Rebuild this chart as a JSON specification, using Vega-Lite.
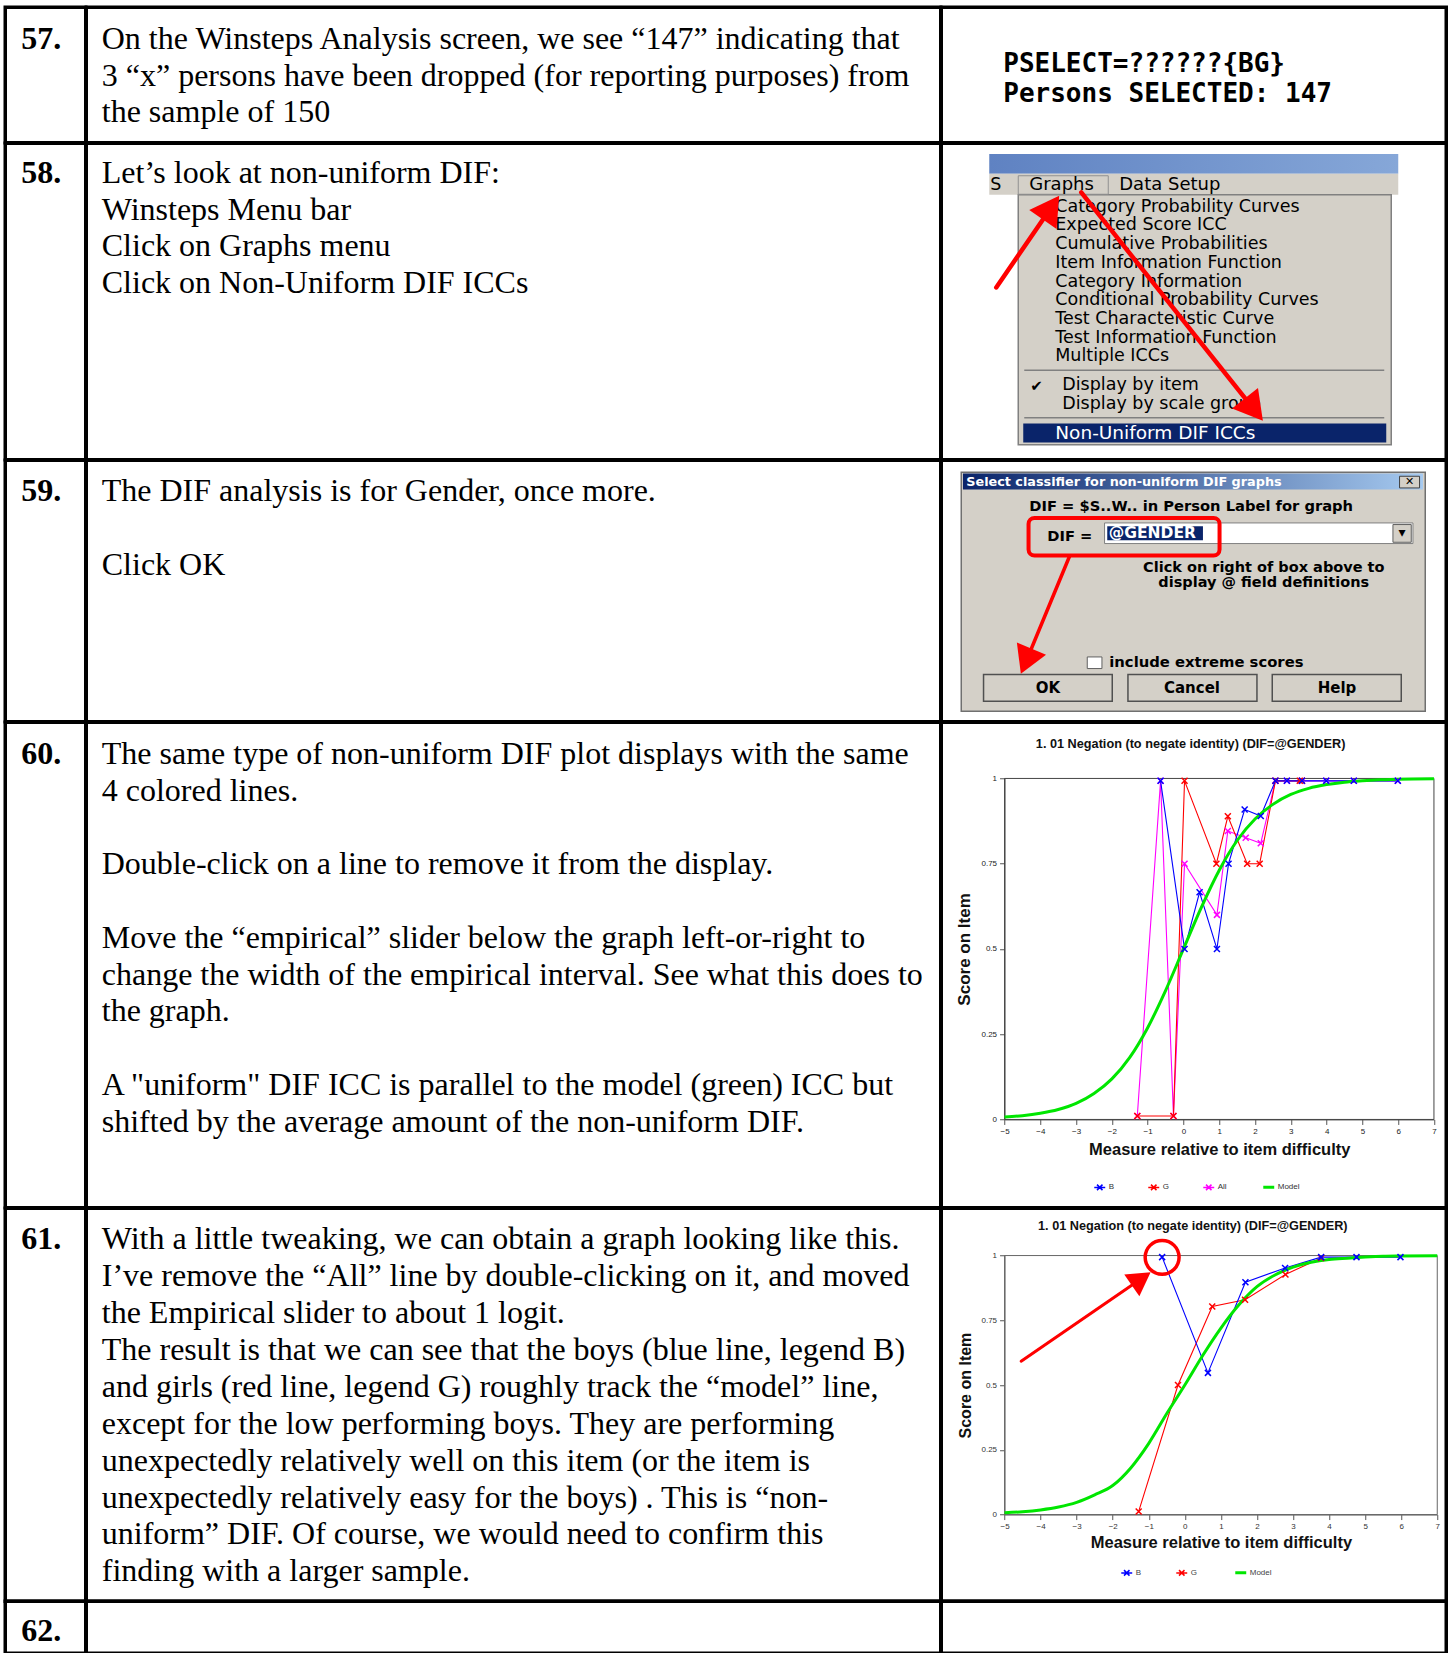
{
"$schema": "https://vega.github.io/schema/vega-lite/v6.json",
"background": "white",
"padding": {"left": 3.25, "top": 5.25, "right": 0, "bottom": 0},
"spacing": 0,
"bounds": "flush",
"align": "each",
"columns": 3,
"resolve": {"scale": {"color": "independent"}, "legend": {"color": "independent"}},
"config": {"view": {"stroke": "#000000", "strokeWidth": 3.5}, "concat": {"spacing": 0}},
"concat": [
 {"width": 80.5, "height": 135.5, "data": {"values": [{"line": 0, "label": "57."}]},
  "mark": {"type": "text", "font": "Liberation Serif", "fontSize": 32, "fontWeight": "bold", "align": "left", "baseline": "middle", "color": "#000"},
  "encoding": {"x": {"value": 16}, "y": {"field": "line", "type": "quantitative", "scale": {"domain": [0, 10], "range": [32, 400], "nice": false, "zero": false}, "axis": null}, "text": {"field": "label"}}},
 {"width": 854.5, "height": 135.5, "data": {"values": [
   {"line": 0, "text": "On the Winsteps Analysis screen, we see “147” indicating that"},
   {"line": 1, "text": "3 “x” persons have been dropped (for reporting purposes) from"},
   {"line": 2, "text": "the sample of 150"}]},
  "mark": {"type": "text", "font": "Liberation Serif", "fontSize": 32, "align": "left", "baseline": "middle", "color": "#000"},
  "encoding": {"x": {"value": 15.5}, "y": {"field": "line", "type": "quantitative", "scale": {"domain": [0, 10], "range": [32, 397], "nice": false, "zero": false}, "axis": null}, "text": {"field": "text"}}},
 {"width": 505, "height": 135.5, "data": {"values": [
   {"line": 0, "text": "PSELECT=??????{BG}"},
   {"line": 1, "text": "Persons SELECTED: 147"}]},
  "mark": {"type": "text", "font": "DejaVu Sans Mono", "fontSize": 26, "fontWeight": "bold", "align": "left", "baseline": "middle", "color": "#000"},
  "encoding": {"x": {"value": 62}, "y": {"field": "line", "type": "quantitative", "scale": {"domain": [0, 1], "range": [56.3, 86.9], "nice": false, "zero": false}, "axis": null}, "text": {"field": "text"}}},

 {"width": 80.5, "height": 316.5, "data": {"values": [{"line": 0, "label": "58."}]},
  "mark": {"type": "text", "font": "Liberation Serif", "fontSize": 32, "fontWeight": "bold", "align": "left", "baseline": "middle", "color": "#000"},
  "encoding": {"x": {"value": 16}, "y": {"field": "line", "type": "quantitative", "scale": {"domain": [0, 10], "range": [29.5, 397.5], "nice": false, "zero": false}, "axis": null}, "text": {"field": "label"}}},
 {"width": 854.5, "height": 316.5, "data": {"values": [
   {"line": 0, "text": "Let’s look at non-uniform DIF:"},
   {"line": 1, "text": "Winsteps Menu bar"},
   {"line": 2, "text": "Click on  Graphs menu"},
   {"line": 3, "text": "Click on Non-Uniform DIF ICCs"}]},
  "mark": {"type": "text", "font": "Liberation Serif", "fontSize": 32, "align": "left", "baseline": "middle", "color": "#000"},
  "encoding": {"x": {"value": 15.5}, "y": {"field": "line", "type": "quantitative", "scale": {"domain": [0, 10], "range": [29.5, 397.5], "nice": false, "zero": false}, "axis": null}, "text": {"field": "text"}}},
 {"width": 505, "height": 316.5, "data": {"values": [{}]},
  "layer": [
   {"mark": {"type": "rect", "fill": {"gradient": "linear", "x1": 0, "y1": 0, "x2": 1, "y2": 0, "stops": [{"offset": 0, "color": "#5f82c2"}, {"offset": 1, "color": "#86a7d8"}]}},
    "encoding": {"x": {"datum": 48, "type": "quantitative", "scale": {"domain": [0, 505], "range": [0, 505], "nice": false, "zero": false}, "axis": null}, "x2": {"datum": 457},
                 "y": {"datum": 10.8, "type": "quantitative", "scale": {"domain": [0, 316.5], "range": [0, 316.5], "nice": false, "zero": false}, "axis": null}, "y2": {"datum": 30.5}}},
   {"mark": {"type": "rect", "fill": "#d4d0c8"},
    "encoding": {"x": {"datum": 48, "type": "quantitative", "axis": null}, "x2": {"datum": 457}, "y": {"datum": 30.5, "type": "quantitative", "axis": null}, "y2": {"datum": 51.5}}},
   {"mark": {"type": "rect", "fill": "#d4d0c8", "stroke": "#808080", "strokeWidth": 1.5},
    "encoding": {"x": {"datum": 77, "type": "quantitative", "axis": null}, "x2": {"datum": 450}, "y": {"datum": 51.5, "type": "quantitative", "axis": null}, "y2": {"datum": 301.5}}},
   {"mark": {"type": "rect", "fill": "transparent", "stroke": "#909090", "strokeWidth": 1},
    "encoding": {"x": {"datum": 77, "type": "quantitative", "axis": null}, "x2": {"datum": 167}, "y": {"datum": 32.5, "type": "quantitative", "axis": null}, "y2": {"datum": 51}}},
   {"mark": {"type": "text", "text": "S", "font": "DejaVu Sans", "fontSize": 17.5, "align": "left", "baseline": "middle", "color": "#000"},
    "encoding": {"x": {"datum": 49, "type": "quantitative", "axis": null}, "y": {"datum": 41.5, "type": "quantitative", "axis": null}}},
   {"mark": {"type": "text", "text": "Graphs", "font": "DejaVu Sans", "fontSize": 18, "align": "left", "baseline": "middle", "color": "#000"},
    "encoding": {"x": {"datum": 88, "type": "quantitative", "axis": null}, "y": {"datum": 41.5, "type": "quantitative", "axis": null}}},
   {"mark": {"type": "text", "text": "Data Setup", "font": "DejaVu Sans", "fontSize": 18, "align": "left", "baseline": "middle", "color": "#000"},
    "encoding": {"x": {"datum": 178, "type": "quantitative", "axis": null}, "y": {"datum": 41.5, "type": "quantitative", "axis": null}}},
   {"mark": {"type": "text", "text": ["Category Probability Curves", "Expected Score ICC", "Cumulative Probabilities", "Item Information Function", "Category Information", "Conditional Probability Curves", "Test Characteristic Curve", "Test Information Function", "Multiple ICCs"], "lineHeight": 18.7, "font": "DejaVu Sans", "fontSize": 17.5, "align": "left", "baseline": "middle", "color": "#000"},
    "encoding": {"x": {"datum": 114, "type": "quantitative", "axis": null}, "y": {"datum": 63.5, "type": "quantitative", "axis": null}}},
   {"mark": {"type": "rule", "stroke": "#808080", "strokeWidth": 1.5},
    "encoding": {"x": {"datum": 83, "type": "quantitative", "axis": null}, "x2": {"datum": 443}, "y": {"datum": 227, "type": "quantitative", "axis": null}}},
   {"mark": {"type": "text", "text": "✔", "font": "DejaVu Sans", "fontSize": 15, "align": "left", "baseline": "middle", "color": "#000"},
    "encoding": {"x": {"datum": 89, "type": "quantitative", "axis": null}, "y": {"datum": 243, "type": "quantitative", "axis": null}}},
   {"mark": {"type": "text", "text": ["Display by item", "Display by scale group"], "lineHeight": 18.7, "font": "DejaVu Sans", "fontSize": 17.5, "align": "left", "baseline": "middle", "color": "#000"},
    "encoding": {"x": {"datum": 121, "type": "quantitative", "axis": null}, "y": {"datum": 241.8, "type": "quantitative", "axis": null}}},
   {"mark": {"type": "rule", "stroke": "#808080", "strokeWidth": 1.5},
    "encoding": {"x": {"datum": 83, "type": "quantitative", "axis": null}, "x2": {"datum": 443}, "y": {"datum": 274.4, "type": "quantitative", "axis": null}}},
   {"mark": {"type": "rect", "fill": "#0a246a"},
    "encoding": {"x": {"datum": 82, "type": "quantitative", "axis": null}, "x2": {"datum": 445}, "y": {"datum": 280.2, "type": "quantitative", "axis": null}, "y2": {"datum": 299.2}}},
   {"mark": {"type": "text", "text": "Non-Uniform DIF ICCs", "font": "DejaVu Sans", "fontSize": 18.5, "align": "left", "baseline": "middle", "color": "#ffffff"},
    "encoding": {"x": {"datum": 114, "type": "quantitative", "axis": null}, "y": {"datum": 289.5, "type": "quantitative", "axis": null}}},
   {"mark": {"type": "rule", "stroke": "#ff0000", "strokeWidth": 4.5, "strokeCap": "round"},
    "encoding": {"x": {"datum": 55, "type": "quantitative", "axis": null}, "y": {"datum": 144.2, "type": "quantitative", "axis": null}, "x2": {"datum": 109.8}, "y2": {"datum": 64.4}}},
   {"mark": {"type": "rule", "stroke": "#ff0000", "strokeWidth": 4.5, "strokeCap": "round"},
    "encoding": {"x": {"datum": 140, "type": "quantitative", "axis": null}, "y": {"datum": 49.2, "type": "quantitative", "axis": null}, "x2": {"datum": 312.7}, "y2": {"datum": 266.2}}},
   {"mark": {"type": "point", "shape": "triangle-up", "filled": true, "fill": "#ff0000", "stroke": null, "opacity": 1, "size": 1100, "angle": 34.5},
    "encoding": {"x": {"datum": 109.8, "type": "quantitative", "axis": null}, "y": {"datum": 64.4, "type": "quantitative", "axis": null}}},
   {"mark": {"type": "point", "shape": "triangle-up", "filled": true, "fill": "#ff0000", "stroke": null, "opacity": 1, "size": 1100, "angle": 141.5},
    "encoding": {"x": {"datum": 312.7, "type": "quantitative", "axis": null}, "y": {"datum": 266.2, "type": "quantitative", "axis": null}}}
  ]},

 {"width": 80.5, "height": 261.5, "data": {"values": [{"line": 0, "label": "59."}]},
  "mark": {"type": "text", "font": "Liberation Serif", "fontSize": 32, "fontWeight": "bold", "align": "left", "baseline": "middle", "color": "#000"},
  "encoding": {"x": {"value": 16}, "y": {"field": "line", "type": "quantitative", "scale": {"domain": [0, 10], "range": [31, 399], "nice": false, "zero": false}, "axis": null}, "text": {"field": "label"}}},
 {"width": 854.5, "height": 261.5, "data": {"values": [
   {"line": 0, "text": "The DIF analysis is for Gender, once more."},
   {"line": 2, "text": "Click OK"}]},
  "mark": {"type": "text", "font": "Liberation Serif", "fontSize": 32, "align": "left", "baseline": "middle", "color": "#000"},
  "encoding": {"x": {"value": 15.5}, "y": {"field": "line", "type": "quantitative", "scale": {"domain": [0, 10], "range": [31, 399], "nice": false, "zero": false}, "axis": null}, "text": {"field": "text"}}},
 {"width": 505, "height": 261.5, "data": {"values": [{}]},
  "layer": [
   {"mark": {"type": "rect", "fill": "#d4d0c8", "stroke": "#707070", "strokeWidth": 1.5},
    "encoding": {"x": {"datum": 20, "type": "quantitative", "scale": {"domain": [0, 505], "range": [0, 505], "nice": false, "zero": false}, "axis": null}, "x2": {"datum": 484},
                 "y": {"datum": 12, "type": "quantitative", "scale": {"domain": [0, 261.5], "range": [0, 261.5], "nice": false, "zero": false}, "axis": null}, "y2": {"datum": 251}}},
   {"mark": {"type": "rect", "fill": {"gradient": "linear", "x1": 0, "y1": 0, "x2": 1, "y2": 0, "stops": [{"offset": 0, "color": "#0a246a"}, {"offset": 1, "color": "#a6caf0"}]}},
    "encoding": {"x": {"datum": 21.7, "type": "quantitative", "axis": null}, "x2": {"datum": 481.7}, "y": {"datum": 13.3, "type": "quantitative", "axis": null}, "y2": {"datum": 29.3}}},
   {"mark": {"type": "text", "text": "Select classifier for non-uniform DIF graphs", "font": "DejaVu Sans", "fontWeight": "bold", "fontSize": 12.8, "align": "left", "baseline": "middle", "color": "#ffffff"},
    "encoding": {"x": {"datum": 25, "type": "quantitative", "axis": null}, "y": {"datum": 21.3, "type": "quantitative", "axis": null}}},
   {"mark": {"type": "rect", "fill": "#d4d0c8", "stroke": "#404040", "strokeWidth": 1},
    "encoding": {"x": {"datum": 458.3, "type": "quantitative", "axis": null}, "x2": {"datum": 478.3}, "y": {"datum": 16, "type": "quantitative", "axis": null}, "y2": {"datum": 27.7}}},
   {"mark": {"type": "text", "text": "✕", "font": "DejaVu Sans", "fontWeight": "bold", "fontSize": 11, "align": "center", "baseline": "middle", "color": "#000"},
    "encoding": {"x": {"datum": 468.3, "type": "quantitative", "axis": null}, "y": {"datum": 22, "type": "quantitative", "axis": null}}},
   {"mark": {"type": "text", "text": "DIF = $S..W.. in Person Label for graph", "font": "DejaVu Sans", "fontWeight": "bold", "fontSize": 14.7, "align": "left", "baseline": "middle", "color": "#000"},
    "encoding": {"x": {"datum": 88, "type": "quantitative", "axis": null}, "y": {"datum": 46.7, "type": "quantitative", "axis": null}}},
   {"mark": {"type": "rect", "fill": "#ffffff", "stroke": "#808080", "strokeWidth": 1},
    "encoding": {"x": {"datum": 163.3, "type": "quantitative", "axis": null}, "x2": {"datum": 471.7}, "y": {"datum": 62.7, "type": "quantitative", "axis": null}, "y2": {"datum": 83.3}}},
   {"mark": {"type": "rect", "fill": "#0a246a"},
    "encoding": {"x": {"datum": 166, "type": "quantitative", "axis": null}, "x2": {"datum": 261.7}, "y": {"datum": 66, "type": "quantitative", "axis": null}, "y2": {"datum": 80}}},
   {"mark": {"type": "text", "text": "@GENDER", "font": "DejaVu Sans", "fontWeight": "bold", "fontSize": 15.5, "align": "left", "baseline": "middle", "color": "#ffffff"},
    "encoding": {"x": {"datum": 167.5, "type": "quantitative", "axis": null}, "y": {"datum": 73, "type": "quantitative", "axis": null}}},
   {"mark": {"type": "rect", "fill": "#d4d0c8", "stroke": "#606060", "strokeWidth": 1},
    "encoding": {"x": {"datum": 451.7, "type": "quantitative", "axis": null}, "x2": {"datum": 470}, "y": {"datum": 64.3, "type": "quantitative", "axis": null}, "y2": {"datum": 82}}},
   {"mark": {"type": "text", "text": "▾", "font": "DejaVu Sans", "fontSize": 14, "align": "center", "baseline": "middle", "color": "#000"},
    "encoding": {"x": {"datum": 460.8, "type": "quantitative", "axis": null}, "y": {"datum": 73, "type": "quantitative", "axis": null}}},
   {"mark": {"type": "text", "text": "DIF =", "font": "DejaVu Sans", "fontWeight": "bold", "fontSize": 14.7, "align": "left", "baseline": "middle", "color": "#000"},
    "encoding": {"x": {"datum": 106, "type": "quantitative", "axis": null}, "y": {"datum": 76.7, "type": "quantitative", "axis": null}}},
   {"mark": {"type": "rect", "fill": "transparent", "stroke": "#ff0000", "strokeWidth": 4, "cornerRadius": 6},
    "encoding": {"x": {"datum": 87.3, "type": "quantitative", "axis": null}, "x2": {"datum": 278.3}, "y": {"datum": 57.7, "type": "quantitative", "axis": null}, "y2": {"datum": 95.3}}},
   {"mark": {"type": "text", "text": ["Click on right of box above to", "display @ field definitions"], "lineHeight": 15, "font": "DejaVu Sans", "fontWeight": "bold", "fontSize": 14.5, "align": "center", "baseline": "middle", "color": "#000"},
    "encoding": {"x": {"datum": 322.5, "type": "quantitative", "axis": null}, "y": {"datum": 107.7, "type": "quantitative", "axis": null}}},
   {"mark": {"type": "rect", "fill": "#ffffff", "stroke": "#606060", "strokeWidth": 1},
    "encoding": {"x": {"datum": 146, "type": "quantitative", "axis": null}, "x2": {"datum": 160.7}, "y": {"datum": 196.7, "type": "quantitative", "axis": null}, "y2": {"datum": 208.3}}},
   {"mark": {"type": "text", "text": "include extreme scores", "font": "DejaVu Sans", "fontWeight": "bold", "fontSize": 14.8, "align": "left", "baseline": "middle", "color": "#000"},
    "encoding": {"x": {"datum": 168, "type": "quantitative", "axis": null}, "y": {"datum": 202.7, "type": "quantitative", "axis": null}}},
   {"mark": {"type": "rect", "fill": "#d4d0c8", "stroke": "#505050", "strokeWidth": 1.5},
    "encoding": {"x": {"datum": 42.3, "type": "quantitative", "axis": null}, "x2": {"datum": 171}, "y": {"datum": 214.3, "type": "quantitative", "axis": null}, "y2": {"datum": 241}}},
   {"mark": {"type": "rect", "fill": "#d4d0c8", "stroke": "#505050", "strokeWidth": 1.5},
    "encoding": {"x": {"datum": 186.7, "type": "quantitative", "axis": null}, "x2": {"datum": 315.7}, "y": {"datum": 214.3, "type": "quantitative", "axis": null}, "y2": {"datum": 241}}},
   {"mark": {"type": "rect", "fill": "#d4d0c8", "stroke": "#505050", "strokeWidth": 1.5},
    "encoding": {"x": {"datum": 331, "type": "quantitative", "axis": null}, "x2": {"datum": 460}, "y": {"datum": 214.3, "type": "quantitative", "axis": null}, "y2": {"datum": 241}}},
   {"mark": {"type": "text", "text": "OK", "font": "DejaVu Sans", "fontWeight": "bold", "fontSize": 15, "align": "center", "baseline": "middle", "color": "#000"},
    "encoding": {"x": {"datum": 106.7, "type": "quantitative", "axis": null}, "y": {"datum": 227.5, "type": "quantitative", "axis": null}}},
   {"mark": {"type": "text", "text": "Cancel", "font": "DejaVu Sans", "fontWeight": "bold", "fontSize": 15, "align": "center", "baseline": "middle", "color": "#000"},
    "encoding": {"x": {"datum": 250.7, "type": "quantitative", "axis": null}, "y": {"datum": 227.5, "type": "quantitative", "axis": null}}},
   {"mark": {"type": "text", "text": "Help", "font": "DejaVu Sans", "fontWeight": "bold", "fontSize": 15, "align": "center", "baseline": "middle", "color": "#000"},
    "encoding": {"x": {"datum": 395.7, "type": "quantitative", "axis": null}, "y": {"datum": 227.5, "type": "quantitative", "axis": null}}},
   {"mark": {"type": "rule", "stroke": "#ff0000", "strokeWidth": 3.5, "strokeCap": "round"},
    "encoding": {"x": {"datum": 128.3, "type": "quantitative", "axis": null}, "y": {"datum": 96, "type": "quantitative", "axis": null}, "x2": {"datum": 84.9}, "y2": {"datum": 201}}},
   {"mark": {"type": "point", "shape": "triangle-up", "filled": true, "fill": "#ff0000", "stroke": null, "opacity": 1, "size": 1000, "angle": 202.8},
    "encoding": {"x": {"datum": 84.9, "type": "quantitative", "axis": null}, "y": {"datum": 201, "type": "quantitative", "axis": null}}}
  ]},

 {"width": 80.5, "height": 485.5, "data": {"values": [{"line": 0, "label": "60."}]},
  "mark": {"type": "text", "font": "Liberation Serif", "fontSize": 32, "fontWeight": "bold", "align": "left", "baseline": "middle", "color": "#000"},
  "encoding": {"x": {"value": 16}, "y": {"field": "line", "type": "quantitative", "scale": {"domain": [0, 10], "range": [31.5, 399.5], "nice": false, "zero": false}, "axis": null}, "text": {"field": "label"}}},
 {"width": 854.5, "height": 485.5, "data": {"values": [
   {"line": 0, "text": "The same type of non-uniform DIF plot displays with the same"},
   {"line": 1, "text": "4 colored lines."},
   {"line": 3, "text": "Double-click on a line to remove it from the display."},
   {"line": 5, "text": "Move the “empirical” slider below the graph left-or-right to"},
   {"line": 6, "text": "change the width of the empirical interval. See what this does to"},
   {"line": 7, "text": "the graph."},
   {"line": 9, "text": "A \"uniform\" DIF ICC is parallel to the model (green) ICC but"},
   {"line": 10, "text": "shifted by the average amount of the non-uniform DIF."}]},
  "mark": {"type": "text", "font": "Liberation Serif", "fontSize": 32, "align": "left", "baseline": "middle", "color": "#000"},
  "encoding": {"x": {"value": 15.5}, "y": {"field": "line", "type": "quantitative", "scale": {"domain": [0, 10], "range": [31.5, 399.5], "nice": false, "zero": false}, "axis": null}, "text": {"field": "text"}}},
 {"width": 505, "height": 485.5,
  "data": {"values": [
   {"series": "All", "x": -1.29, "score": 0.01}, {"series": "All", "x": -0.64, "score": 0.993}, {"series": "All", "x": -0.28, "score": 0.01},
   {"series": "All", "x": 0.03, "score": 0.75}, {"series": "All", "x": 0.935, "score": 0.6}, {"series": "All", "x": 1.24, "score": 0.846},
   {"series": "All", "x": 1.74, "score": 0.826}, {"series": "All", "x": 2.16, "score": 0.81}, {"series": "All", "x": 2.57, "score": 0.993},
   {"series": "All", "x": 2.89, "score": 0.993}, {"series": "All", "x": 3.31, "score": 0.993}, {"series": "All", "x": 3.99, "score": 0.993},
   {"series": "All", "x": 4.76, "score": 0.993}, {"series": "All", "x": 5.99, "score": 0.993},
   {"series": "G", "x": -1.29, "score": 0.01}, {"series": "G", "x": -0.28, "score": 0.01}, {"series": "G", "x": 0.03, "score": 0.993},
   {"series": "G", "x": 0.92, "score": 0.75}, {"series": "G", "x": 1.24, "score": 0.889}, {"series": "G", "x": 1.78, "score": 0.75},
   {"series": "G", "x": 2.13, "score": 0.75}, {"series": "G", "x": 2.57, "score": 0.993}, {"series": "G", "x": 3.25, "score": 0.993},
   {"series": "G", "x": 3.31, "score": 0.993},
   {"series": "B", "x": -0.64, "score": 0.993}, {"series": "B", "x": 0.03, "score": 0.5}, {"series": "B", "x": 0.45, "score": 0.666},
   {"series": "B", "x": 0.935, "score": 0.5}, {"series": "B", "x": 1.26, "score": 0.75}, {"series": "B", "x": 1.71, "score": 0.909},
   {"series": "B", "x": 2.16, "score": 0.89}, {"series": "B", "x": 2.57, "score": 0.993}, {"series": "B", "x": 2.89, "score": 0.993},
   {"series": "B", "x": 3.31, "score": 0.993}, {"series": "B", "x": 3.99, "score": 0.993}, {"series": "B", "x": 4.76, "score": 0.993},
   {"series": "B", "x": 5.99, "score": 0.993},
   {"series": "Model", "x": -5, "score": 0.007}, {"series": "Model", "x": -4.5, "score": 0.011}, {"series": "Model", "x": -4, "score": 0.018},
   {"series": "Model", "x": -3.5, "score": 0.029}, {"series": "Model", "x": -3, "score": 0.047}, {"series": "Model", "x": -2.5, "score": 0.076},
   {"series": "Model", "x": -2, "score": 0.119}, {"series": "Model", "x": -1.5, "score": 0.182}, {"series": "Model", "x": -1, "score": 0.269},
   {"series": "Model", "x": -0.5, "score": 0.378}, {"series": "Model", "x": 0, "score": 0.5}, {"series": "Model", "x": 0.5, "score": 0.622},
   {"series": "Model", "x": 1, "score": 0.731}, {"series": "Model", "x": 1.5, "score": 0.818}, {"series": "Model", "x": 2, "score": 0.881},
   {"series": "Model", "x": 2.5, "score": 0.924}, {"series": "Model", "x": 3, "score": 0.953}, {"series": "Model", "x": 3.5, "score": 0.971},
   {"series": "Model", "x": 4, "score": 0.982}, {"series": "Model", "x": 4.5, "score": 0.989}, {"series": "Model", "x": 5, "score": 0.993},
   {"series": "Model", "x": 5.5, "score": 0.996}, {"series": "Model", "x": 6, "score": 0.998}, {"series": "Model", "x": 7, "score": 0.999}
  ]},
  "layer": [
   {"data": {"values": [{}]}, "mark": {"type": "rect", "fill": "transparent", "stroke": "#444444", "strokeWidth": 1},
    "encoding": {"x": {"datum": -5, "type": "quantitative"}, "x2": {"datum": 7}, "y": {"datum": 0, "type": "quantitative"}, "y2": {"datum": 1}}},
   {"transform": [{"filter": "datum.series !== 'Model'"}], "mark": {"type": "line", "strokeWidth": 1.1},
    "encoding": {
     "x": {"field": "x", "type": "quantitative", "scale": {"domain": [-5, 7], "range": [63.3, 492.7], "nice": false, "zero": false},
           "axis": {"title": "Measure relative to item difficulty", "offset": -88.3, "values": [-5, -4, -3, -2, -1, 0, 1, 2, 3, 4, 5, 6, 7], "format": "d", "grid": false, "labelFlush": false, "labelOverlap": false,
                    "labelFont": "Liberation Sans", "labelFontSize": 8, "labelColor": "#222", "labelPadding": 3, "tickSize": 5, "tickColor": "#555", "domainColor": "#555",
                    "titleFont": "Liberation Sans", "titleFontSize": 16.5, "titleFontWeight": "bold", "titleColor": "#111", "titlePadding": 6}},
     "y": {"field": "score", "type": "quantitative", "scale": {"domain": [0, 1], "range": [397.2, 56.2], "nice": false, "zero": false},
           "axis": {"title": "Score on Item", "offset": -63.3, "values": [0, 0.25, 0.5, 0.75, 1], "format": ".2~g", "grid": false, "labelOverlap": false, "labelFlush": false,
                    "labelFont": "Liberation Sans", "labelFontSize": 8, "labelColor": "#222", "labelPadding": 3, "tickSize": 5, "tickColor": "#555", "domainColor": "#555",
                    "titleFont": "Liberation Sans", "titleFontSize": 17, "titleFontWeight": "bold", "titleColor": "#111", "titlePadding": 7}},
     "color": {"field": "series", "type": "nominal", "scale": {"domain": ["B", "G", "All", "Model"], "range": ["#0000ff", "#ff0000", "#ff00ff", "#00e600"]},
      "legend": {"title": null, "orient": "none", "legendX": 154.5, "legendY": 461, "direction": "horizontal", "labelFont": "Liberation Sans", "labelFontSize": 8, "labelColor": "#333",
                 "symbolType": "M-1,0L1,0M-0.5,-0.5L0.5,0.5M-0.5,0.5L0.5,-0.5", "symbolSize": 120, "symbolStrokeWidth": 1.5, "columnPadding": 30, "labelOffset": 5,
                 "encode": {"symbols": {"update": {"shape": {"signal": "datum.value === 'Model' ? 'M-1,0L1,0' : 'M-1,0L1,0M-0.5,-0.5L0.5,0.5M-0.5,0.5L0.5,-0.5'"}, "strokeWidth": {"signal": "datum.value === 'Model' ? 3 : 1.5"}}}}}}}},
   {"transform": [{"filter": "datum.series === 'Model'"}], "mark": {"type": "line", "strokeWidth": 3, "interpolate": "monotone"},
    "encoding": {"x": {"field": "x", "type": "quantitative"}, "y": {"field": "score", "type": "quantitative"}, "color": {"field": "series", "type": "nominal"}}},
   {"transform": [{"filter": "datum.series !== 'Model'"}], "mark": {"type": "point", "shape": "M-1,-1L1,1M-1,1L1,-1", "filled": false, "size": 36, "strokeWidth": 1.5, "opacity": 1},
    "encoding": {"x": {"field": "x", "type": "quantitative"}, "y": {"field": "score", "type": "quantitative"}, "color": {"field": "series", "type": "nominal"}}},
   {"data": {"values": [{}]}, "mark": {"type": "text", "text": "1. 01 Negation (to negate identity)  (DIF=@GENDER)", "font": "Liberation Sans", "fontSize": 12.7, "fontWeight": "bold", "align": "center", "baseline": "middle", "color": "#111"},
    "encoding": {"x": {"datum": 0.2, "type": "quantitative"}, "y": {"datum": 1.1, "type": "quantitative"}}}
  ]},

 {"width": 80.5, "height": 393, "data": {"values": [{"line": 0, "label": "61."}]},
  "mark": {"type": "text", "font": "Liberation Serif", "fontSize": 32, "fontWeight": "bold", "align": "left", "baseline": "middle", "color": "#000"},
  "encoding": {"x": {"value": 16}, "y": {"field": "line", "type": "quantitative", "scale": {"domain": [0, 10], "range": [31, 400], "nice": false, "zero": false}, "axis": null}, "text": {"field": "label"}}},
 {"width": 854.5, "height": 393, "data": {"values": [
   {"line": 0, "text": "With a little tweaking, we can obtain a graph looking like this."},
   {"line": 1, "text": "I’ve remove the “All” line by double-clicking on it, and moved"},
   {"line": 2, "text": "the Empirical slider to about 1 logit."},
   {"line": 3, "text": "The result is that we can see that the boys (blue line, legend B)"},
   {"line": 4, "text": "and girls (red line, legend G) roughly track the “model” line,"},
   {"line": 5, "text": "except for the low performing boys. They are performing"},
   {"line": 6, "text": "unexpectedly relatively well on this item (or the item is"},
   {"line": 7, "text": "unexpectedly relatively easy for the boys) . This is “non-"},
   {"line": 8, "text": "uniform” DIF. Of course, we would need to confirm this"},
   {"line": 9, "text": "finding with a larger sample."}]},
  "mark": {"type": "text", "font": "Liberation Serif", "fontSize": 32, "align": "left", "baseline": "middle", "color": "#000"},
  "encoding": {"x": {"value": 15.5}, "y": {"field": "line", "type": "quantitative", "scale": {"domain": [0, 10], "range": [31, 400], "nice": false, "zero": false}, "axis": null}, "text": {"field": "text"}}},
 {"width": 505, "height": 393,
  "data": {"values": [
   {"series": "G", "x": -1.28, "score": 0.012}, {"series": "G", "x": -0.19, "score": 0.5}, {"series": "G", "x": 0.76, "score": 0.803},
   {"series": "G", "x": 1.67, "score": 0.829}, {"series": "G", "x": 2.79, "score": 0.927}, {"series": "G", "x": 3.78, "score": 0.991},
   {"series": "B", "x": -0.63, "score": 0.994}, {"series": "B", "x": 0.64, "score": 0.547}, {"series": "B", "x": 1.68, "score": 0.897},
   {"series": "B", "x": 2.78, "score": 0.952}, {"series": "B", "x": 3.78, "score": 0.994}, {"series": "B", "x": 4.76, "score": 0.994},
   {"series": "B", "x": 5.98, "score": 0.994},
   {"series": "Model", "x": -5, "score": 0.007}, {"series": "Model", "x": -4.5, "score": 0.011}, {"series": "Model", "x": -4, "score": 0.018},
   {"series": "Model", "x": -3.5, "score": 0.029}, {"series": "Model", "x": -3, "score": 0.047}, {"series": "Model", "x": -2.5, "score": 0.076},
   {"series": "Model", "x": -2, "score": 0.112}, {"series": "Model", "x": -1.5, "score": 0.18}, {"series": "Model", "x": -1, "score": 0.275},
   {"series": "Model", "x": -0.5, "score": 0.39}, {"series": "Model", "x": 0, "score": 0.5}, {"series": "Model", "x": 0.5, "score": 0.615},
   {"series": "Model", "x": 1, "score": 0.72}, {"series": "Model", "x": 1.5, "score": 0.81}, {"series": "Model", "x": 2, "score": 0.88},
   {"series": "Model", "x": 2.5, "score": 0.925}, {"series": "Model", "x": 3, "score": 0.955}, {"series": "Model", "x": 3.5, "score": 0.974},
   {"series": "Model", "x": 4, "score": 0.985}, {"series": "Model", "x": 4.5, "score": 0.99}, {"series": "Model", "x": 5, "score": 0.994},
   {"series": "Model", "x": 5.5, "score": 0.997}, {"series": "Model", "x": 6, "score": 0.998}, {"series": "Model", "x": 7, "score": 0.999}
  ]},
  "layer": [
   {"data": {"values": [{}]}, "mark": {"type": "rect", "fill": "transparent", "stroke": "#666666", "strokeWidth": 1},
    "encoding": {"x": {"datum": -5, "type": "quantitative"}, "x2": {"datum": 7}, "y": {"datum": 0, "type": "quantitative"}, "y2": {"datum": 1}}},
   {"transform": [{"filter": "datum.series !== 'Model'"}], "mark": {"type": "line", "strokeWidth": 1.1},
    "encoding": {
     "x": {"field": "x", "type": "quantitative", "scale": {"domain": [-5, 7], "range": [63.3, 496], "nice": false, "zero": false},
           "axis": {"title": "Measure relative to item difficulty", "offset": -86.7, "values": [-5, -4, -3, -2, -1, 0, 1, 2, 3, 4, 5, 6, 7], "format": "d", "grid": false, "labelFlush": false, "labelOverlap": false,
                    "labelFont": "Liberation Sans", "labelFontSize": 8, "labelColor": "#333", "labelPadding": 3, "tickSize": 5, "tickColor": "#555", "domainColor": "#666",
                    "titleFont": "Liberation Sans", "titleFontSize": 16.5, "titleFontWeight": "bold", "titleColor": "#111", "titlePadding": 4}},
     "y": {"field": "score", "type": "quantitative", "scale": {"domain": [0, 1], "range": [306.3, 47.3], "nice": false, "zero": false},
           "axis": {"title": "Score on Item", "offset": -63.3, "values": [0, 0.25, 0.5, 0.75, 1], "format": ".2~g", "grid": false, "labelOverlap": false, "labelFlush": false,
                    "labelFont": "Liberation Sans", "labelFontSize": 8, "labelColor": "#333", "labelPadding": 3, "tickSize": 5, "tickColor": "#555", "domainColor": "#666",
                    "titleFont": "Liberation Sans", "titleFontSize": 16, "titleFontWeight": "bold", "titleColor": "#111", "titlePadding": 7}},
     "color": {"field": "series", "type": "nominal", "scale": {"domain": ["B", "G", "Model"], "range": ["#0000ff", "#ff0000", "#00e600"]},
      "legend": {"title": null, "orient": "none", "legendX": 181.5, "legendY": 360.5, "direction": "horizontal", "labelFont": "Liberation Sans", "labelFontSize": 8, "labelColor": "#444",
                 "symbolType": "M-1,0L1,0M-0.5,-0.5L0.5,0.5M-0.5,0.5L0.5,-0.5", "symbolSize": 120, "symbolStrokeWidth": 1.5, "columnPadding": 31, "labelOffset": 5,
                 "encode": {"symbols": {"update": {"shape": {"signal": "datum.value === 'Model' ? 'M-1,0L1,0' : 'M-1,0L1,0M-0.5,-0.5L0.5,0.5M-0.5,0.5L0.5,-0.5'"}, "strokeWidth": {"signal": "datum.value === 'Model' ? 3 : 1.5"}}}}}}}},
   {"transform": [{"filter": "datum.series === 'Model'"}], "mark": {"type": "line", "strokeWidth": 3, "interpolate": "monotone"},
    "encoding": {"x": {"field": "x", "type": "quantitative"}, "y": {"field": "score", "type": "quantitative"}, "color": {"field": "series", "type": "nominal"}}},
   {"transform": [{"filter": "datum.series !== 'Model'"}], "mark": {"type": "point", "shape": "M-1,-1L1,1M-1,1L1,-1", "filled": false, "size": 36, "strokeWidth": 1.5, "opacity": 1},
    "encoding": {"x": {"field": "x", "type": "quantitative"}, "y": {"field": "score", "type": "quantitative"}, "color": {"field": "series", "type": "nominal"}}},
   {"data": {"values": [{}]}, "mark": {"type": "text", "text": "1. 01 Negation (to negate identity)  (DIF=@GENDER)", "font": "Liberation Sans", "fontSize": 12.7, "fontWeight": "bold", "align": "center", "baseline": "middle", "color": "#111"},
    "encoding": {"x": {"datum": 0.22, "type": "quantitative"}, "y": {"datum": 1.115, "type": "quantitative"}}},
   {"data": {"values": [{}]}, "mark": {"type": "point", "shape": "circle", "filled": false, "stroke": "#ff0000", "strokeWidth": 3.5, "size": 1150, "opacity": 1},
    "encoding": {"x": {"datum": -0.63, "type": "quantitative"}, "y": {"datum": 0.993, "type": "quantitative"}}},
   {"data": {"values": [{}]}, "mark": {"type": "rule", "stroke": "#ff0000", "strokeWidth": 3, "strokeCap": "round"},
    "encoding": {"x": {"datum": -4.54, "type": "quantitative"}, "y": {"datum": 0.592, "type": "quantitative"}, "x2": {"datum": -1.21}, "y2": {"datum": 0.91}}},
   {"data": {"values": [{}]}, "mark": {"type": "point", "shape": "triangle-up", "filled": true, "fill": "#ff0000", "stroke": null, "opacity": 1, "size": 700, "angle": 55.2},
    "encoding": {"x": {"datum": -1.21, "type": "quantitative"}, "y": {"datum": 0.91, "type": "quantitative"}}}
  ]},

 {"width": 80.5, "height": 52, "data": {"values": [{"line": 0, "label": "62."}]},
  "mark": {"type": "text", "font": "Liberation Serif", "fontSize": 32, "fontWeight": "bold", "align": "left", "baseline": "middle", "color": "#000"},
  "encoding": {"x": {"value": 16}, "y": {"field": "line", "type": "quantitative", "scale": {"domain": [0, 10], "range": [30, 398], "nice": false, "zero": false}, "axis": null}, "text": {"field": "label"}}},
 {"width": 854.5, "height": 52, "data": {"values": [{"line": 0, "text": ""}]},
  "mark": {"type": "text", "font": "Liberation Serif", "fontSize": 32, "align": "left", "baseline": "middle"},
  "encoding": {"x": {"value": 15.5}, "y": {"value": 30}, "text": {"field": "text"}}},
 {"width": 505, "height": 52, "data": {"values": [{"line": 0, "text": ""}]},
  "mark": {"type": "text", "font": "Liberation Serif", "fontSize": 32, "align": "left", "baseline": "middle"},
  "encoding": {"x": {"value": 15.5}, "y": {"value": 30}, "text": {"field": "text"}}}
]
}
